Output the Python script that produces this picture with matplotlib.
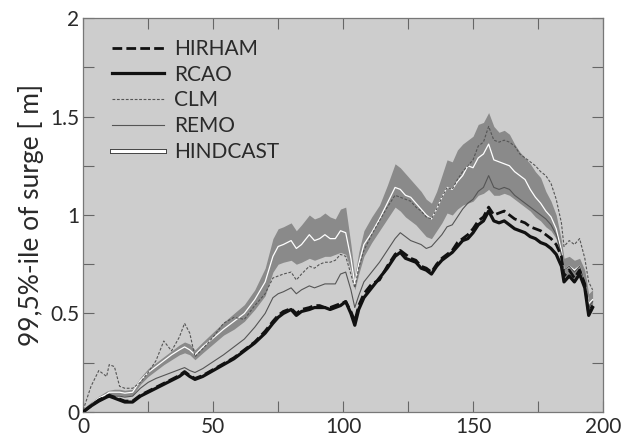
import matplotlib
matplotlib.use("Agg")
import matplotlib.pyplot as plt
import matplotlib.patheffects as pe
import numpy as np

x = [0, 3, 6, 9, 10, 12, 14, 16, 19, 22, 25, 28, 31, 34, 37, 39, 41, 43, 46, 50,
     54, 58, 62, 66, 70, 73, 75, 77, 80, 82, 84, 87, 89, 91, 93, 95, 97, 99, 101, 103,
     104.5, 106, 108, 111, 114, 117, 120, 122, 124, 126, 128, 130, 132, 134, 136, 138, 140, 142, 144, 146,
     148, 150, 152, 154, 156, 158, 160, 162, 164, 166, 168, 170, 172, 174, 176, 178, 180, 182, 184, 185,
     187, 189, 191, 193, 194.5, 196]

hindcast = [0.01, 0.04, 0.07, 0.09, 0.10, 0.10, 0.10, 0.095, 0.10, 0.16, 0.20, 0.23, 0.26, 0.29, 0.315, 0.33, 0.315, 0.29, 0.33, 0.375,
            0.42, 0.46, 0.50, 0.57, 0.66, 0.79, 0.84, 0.85, 0.87, 0.83, 0.85, 0.90, 0.87, 0.88, 0.90, 0.88, 0.88, 0.92, 0.91, 0.78,
            0.65, 0.75, 0.85, 0.91, 0.98, 1.06, 1.14, 1.13, 1.10, 1.09, 1.06, 1.03, 1.00, 0.98, 1.03, 1.09, 1.14, 1.13, 1.17, 1.20,
            1.25, 1.24, 1.29, 1.31, 1.36, 1.28, 1.27, 1.26, 1.25, 1.22, 1.20, 1.18, 1.13, 1.09, 1.06, 1.02, 0.99, 0.93, 0.82, 0.72,
            0.74, 0.72, 0.74, 0.66, 0.55, 0.57]
band_lo = [0.005, 0.03, 0.06, 0.08, 0.085, 0.085, 0.085, 0.08, 0.085, 0.14, 0.18, 0.21, 0.24, 0.265, 0.29, 0.30, 0.29, 0.265, 0.30, 0.345,
           0.39, 0.42, 0.46, 0.52, 0.59, 0.71, 0.75, 0.76, 0.77, 0.75, 0.76, 0.78, 0.77, 0.78, 0.79, 0.79, 0.80, 0.81, 0.80, 0.72,
           0.62, 0.70, 0.79, 0.86, 0.92, 0.98, 1.04, 1.02, 0.99, 0.97, 0.95, 0.92, 0.89, 0.88, 0.92, 0.96, 1.01, 1.00, 1.03, 1.05,
           1.06, 1.07, 1.10, 1.11, 1.13, 1.10, 1.10, 1.11, 1.10, 1.08, 1.06, 1.04, 1.02, 0.99, 0.97, 0.94, 0.92, 0.88, 0.78, 0.67,
           0.69, 0.67, 0.69, 0.61, 0.50, 0.53]
band_hi = [0.015, 0.05, 0.08, 0.105, 0.11, 0.115, 0.115, 0.11, 0.115, 0.175, 0.22, 0.25, 0.28, 0.31, 0.34, 0.355, 0.345, 0.315, 0.355, 0.405,
           0.455, 0.50, 0.545, 0.62, 0.73, 0.88, 0.93, 0.94, 0.96, 0.92, 0.95, 1.00, 0.98, 0.99, 1.01, 0.99, 0.98, 1.03, 1.04, 0.85,
           0.69, 0.81, 0.92, 0.99, 1.05, 1.15, 1.26, 1.24, 1.21, 1.18, 1.15, 1.12, 1.08, 1.06, 1.12, 1.20, 1.28, 1.27, 1.33, 1.36,
           1.38, 1.40, 1.46, 1.47, 1.52, 1.45, 1.42, 1.43, 1.41, 1.36, 1.32, 1.29, 1.26, 1.22, 1.19, 1.12, 1.07, 1.00, 0.87, 0.78,
           0.79, 0.77, 0.78, 0.72, 0.60, 0.62]
clm = [0.01, 0.13, 0.21, 0.18, 0.24, 0.23, 0.13, 0.12, 0.12, 0.15, 0.20, 0.26, 0.36, 0.31, 0.38, 0.45, 0.40, 0.28, 0.32, 0.38,
       0.45, 0.48, 0.47, 0.54, 0.60, 0.68, 0.69, 0.70, 0.71, 0.67, 0.70, 0.74, 0.73, 0.75, 0.76, 0.76, 0.77, 0.80, 0.79, 0.70,
       0.63, 0.73, 0.82, 0.90, 0.97, 1.04, 1.10, 1.09, 1.08, 1.07, 1.04, 1.02, 0.99, 0.98, 1.03, 1.09, 1.14, 1.13, 1.18, 1.22,
       1.25, 1.28, 1.35, 1.37, 1.45, 1.38, 1.37, 1.38, 1.37, 1.35, 1.31, 1.29, 1.27, 1.25, 1.22, 1.20, 1.16, 1.08, 0.96, 0.84,
       0.87, 0.85, 0.88, 0.78, 0.66, 0.62]
remo = [0.01, 0.04, 0.065, 0.08, 0.085, 0.08, 0.08, 0.075, 0.08, 0.12, 0.15, 0.17, 0.185, 0.20, 0.215, 0.225, 0.21, 0.20, 0.22, 0.255,
        0.29, 0.33, 0.37, 0.43, 0.50, 0.58, 0.60, 0.61, 0.63, 0.60, 0.62, 0.64, 0.63, 0.64, 0.65, 0.65, 0.65, 0.70, 0.71, 0.62,
        0.53, 0.59, 0.66, 0.71, 0.76, 0.82, 0.88, 0.91, 0.89, 0.87, 0.86, 0.85, 0.83, 0.84, 0.87, 0.90, 0.94, 0.95, 0.99, 1.03,
        1.06, 1.08, 1.12, 1.14, 1.20, 1.14, 1.13, 1.14, 1.13, 1.10, 1.08, 1.06, 1.04, 1.02, 1.00, 0.98, 0.95, 0.90, 0.80, 0.72,
        0.74, 0.71, 0.74, 0.66, 0.53, 0.56]
rcao = [0.0, 0.03, 0.055, 0.075, 0.08, 0.07, 0.06, 0.05, 0.05, 0.08, 0.10, 0.12, 0.14, 0.16, 0.18, 0.20, 0.18, 0.165, 0.18, 0.21,
        0.24, 0.27, 0.31, 0.35, 0.40, 0.45, 0.48, 0.50, 0.52, 0.49, 0.51, 0.52, 0.53, 0.53, 0.53, 0.52, 0.53, 0.54, 0.56, 0.50,
        0.44, 0.52, 0.58, 0.63, 0.68, 0.73, 0.79, 0.81, 0.78, 0.77, 0.76, 0.73, 0.72, 0.70, 0.74, 0.77, 0.79, 0.81, 0.84, 0.87,
        0.88, 0.91, 0.95, 0.97, 1.02, 0.97, 0.96, 0.97, 0.95, 0.93, 0.92, 0.91, 0.89, 0.88, 0.86, 0.85, 0.83, 0.80, 0.74, 0.66,
        0.69, 0.66, 0.70, 0.63, 0.49, 0.53]
hirham = [0.0, 0.03, 0.06, 0.08, 0.085, 0.075, 0.065, 0.055, 0.055, 0.085, 0.105, 0.125, 0.145, 0.165, 0.185, 0.205, 0.185, 0.17, 0.185, 0.215,
          0.245, 0.275, 0.315, 0.355, 0.41, 0.46, 0.49, 0.51, 0.525, 0.50, 0.52, 0.53, 0.54, 0.54, 0.53, 0.53, 0.54, 0.55, 0.56, 0.51,
          0.46, 0.54, 0.60, 0.65, 0.67, 0.74, 0.80, 0.82, 0.80, 0.78, 0.77, 0.74, 0.73, 0.71, 0.75, 0.78, 0.80, 0.82, 0.86, 0.88,
          0.90, 0.93, 0.97, 0.99, 1.04, 1.00, 1.01, 1.02, 1.00, 0.98, 0.97, 0.96, 0.94, 0.93, 0.92, 0.90, 0.88, 0.85, 0.79, 0.69,
          0.72, 0.68, 0.72, 0.65, 0.50, 0.54]

xticks = [0, 50, 100, 150, 200]
yticks = [0, 0.5, 1, 1.5, 2]
xtick_labels = ["0", "50", "100", "150", "200"]
ytick_labels = ["0", "0.5", "1", "1.5", "2"]
ylabel = "99,5%-ile of surge [ m]"

plt.rcParams['font.family'] = ['Lato', 'DejaVu Sans']

fig = plt.figure(figsize=(6.21, 4.41), dpi=100)
ax = fig.add_axes([0.134, 0.066, 0.837, 0.893])
ax.set_facecolor('#cdcdcd')

ax.fill_between(x, band_lo, band_hi, color='#8a8a8a', lw=0, zorder=1)
ax.plot(x, hindcast, color='white', lw=0.9, zorder=3)
ax.plot(x, clm, color='#555555', lw=0.8, ls=(0, (2.5, 1.5)), zorder=3)
ax.plot(x, remo, color='#555555', lw=0.8, zorder=3)
ax.plot(x, rcao, color='#111111', lw=2.3, zorder=4)
ax.plot(x, hirham, color='#111111', lw=2.0, ls=(0, (3.5, 1.5)), zorder=4)

# legend handles
h1, = ax.plot([], [], color='#111111', lw=2.0, ls=(0, (3.5, 1.5)))
h2, = ax.plot([], [], color='#111111', lw=2.3)
h3, = ax.plot([], [], color='#555555', lw=0.8, ls=(0, (2.5, 1.5)))
h4, = ax.plot([], [], color='#555555', lw=0.8)
h5, = ax.plot([], [], color='white', lw=2.2,
              path_effects=[pe.Stroke(linewidth=3.6, foreground='#444444'), pe.Normal()])
leg = ax.legend([h1, h2, h3, h4, h5], ["HIRHAM", "RCAO", "CLM", "REMO", "HINDCAST"],
                loc='upper left', bbox_to_anchor=(0.02, 0.995), frameon=False,
                fontsize=15, handlelength=2.5, handletextpad=0.45, labelspacing=0.28)
for t in leg.get_texts():
    t.set_color('#2a2a2a')

ax.set_xlim(0, 200)
ax.set_ylim(0, 2)
ax.set_xticks(xticks)
ax.set_xticklabels(xtick_labels)
ax.set_yticks(yticks)
ax.set_yticklabels(ytick_labels)
ax.set_xticks([25, 75, 125, 175], minor=True)
ax.set_yticks([0.25, 0.75, 1.25, 1.75], minor=True)
ax.tick_params(which='both', direction='in', length=8, width=0.8, color='#666666',
               top=True, right=True, labelsize=15, labelcolor='#2a2a2a')
ax.tick_params(axis='x', pad=4)
ax.tick_params(axis='y', pad=3)
for s in ax.spines.values():
    s.set_color('#777777')
    s.set_linewidth(0.9)
ax.set_ylabel(ylabel, fontsize=19, color='#2a2a2a', labelpad=4)

fig.savefig("out.png", dpi=100)
